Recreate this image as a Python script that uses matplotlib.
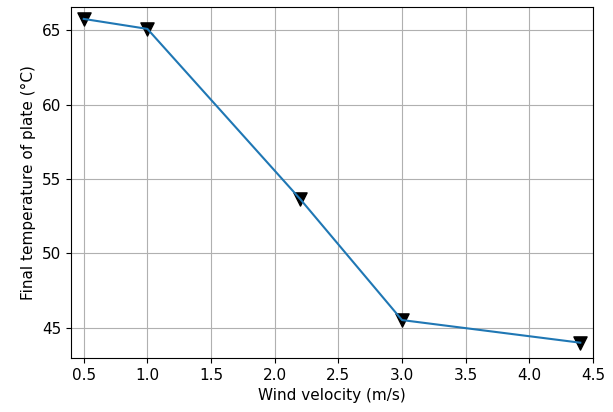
import matplotlib
matplotlib.use("Agg")
import matplotlib.pyplot as plt

wind_velocity = [0.5, 1.0, 2.2, 3.0, 4.4]
final_temp = [65.75, 65.08, 53.65, 45.52, 44.0]
x_ticks = [0.5, 1.0, 1.5, 2.0, 2.5, 3.0, 3.5, 4.0, 4.5]

plt.rcParams['font.size'] = 11
fig = plt.figure(figsize=(6.13, 4.12), dpi=100)
ax = fig.add_axes([0.1158, 0.131, 0.8516, 0.852])
ax.scatter(wind_velocity, final_temp, marker='v', color='black', s=90, zorder=2)
ax.plot(wind_velocity, final_temp, color='#1f77b4', zorder=3)
ax.set_xlim(0.4, 4.5)
ax.set_ylim(42.97, 66.55)
ax.set_xticks(x_ticks)
ax.grid(True)
ax.set_xlabel('Wind velocity (m/s)')
ax.set_ylabel('Final temperature of plate (°C)')
fig.savefig('out.png', dpi=100)
